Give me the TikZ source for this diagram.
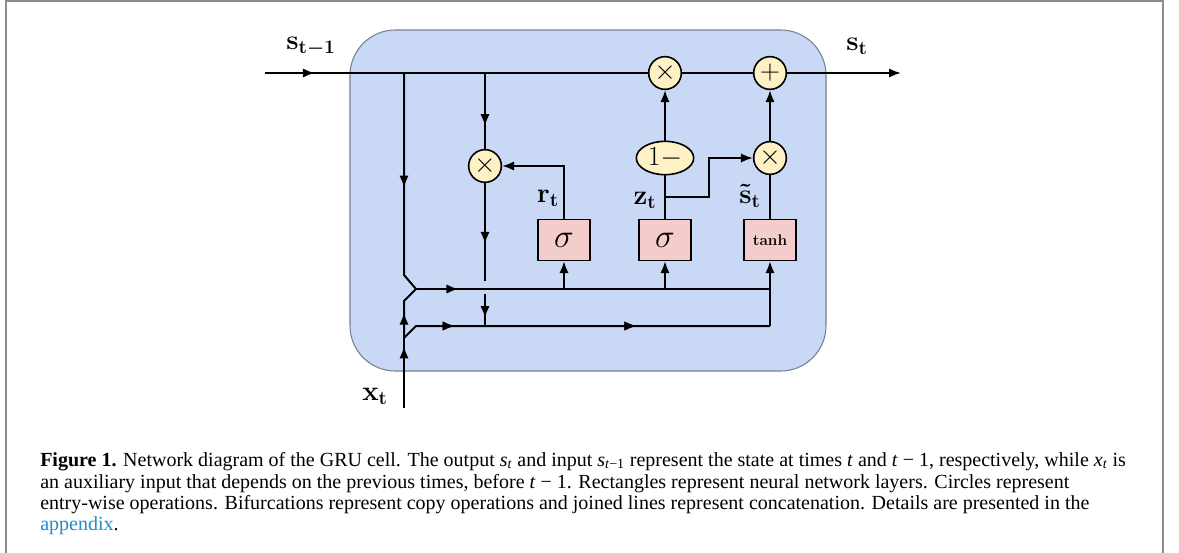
\documentclass[tikz,border=0pt]{standalone}
\usepackage{fontspec}
\usepackage{amsmath,amssymb}
\usepackage{xcolor}
\usepackage{tikz}
\usetikzlibrary{arrows.meta,decorations.markings,shapes.geometric}
\newfontfamily\capfont{Liberation Serif}

\definecolor{cellblue}{RGB}{201,217,245}
\definecolor{cellgray}{RGB}{118,128,145}
\definecolor{opyellow}{RGB}{253,241,197}
\definecolor{layerpink}{RGB}{244,204,204}
\definecolor{framegray}{RGB}{140,140,140}
\definecolor{linkblue}{RGB}{32,140,200}

\begin{document}
\begin{tikzpicture}[x=0.75pt,y=0.75pt,yscale=-1,xscale=1,
    wire/.style={line width=1.5pt,line join=miter},
    tip/.style={-{Latex[length=9pt,width=7pt]}},
    marr/.style={postaction={decorate},decoration={markings,mark=at position #1 with {\arrow{Latex[length=9pt,width=7pt]}}}},
    op/.style={circle,draw,line width=1.2pt,fill=opyellow,minimum size=24.5pt,inner sep=0pt,font=\fontsize{21}{21}\selectfont},
    layer/.style={rectangle,draw,line width=1.2pt,fill=layerpink,minimum width=39pt,minimum height=30.5pt,inner sep=0pt},
    lbl/.style={inner sep=0pt,font=\fontsize{21}{21}\selectfont\boldmath},
    capline/.style={anchor=base west,inner sep=0pt,font=\capfont\fontsize{15}{16}\selectfont}]

\useasboundingbox (0,0) rectangle (1179,553);

% page frame
\draw [framegray,line width=1.5pt] (6,553) -- (6,1) -- (1163,1) -- (1163,553);

% cell body
\draw [cellgray,fill=cellblue,line width=0.8pt,rounded corners=34pt] (350,30) rectangle (826,371);

% operations
\node [op] (mulr) at (485,166) {$\times$};
\node [op] (multop) at (665,73) {$\times$};
\node [op] (plus) at (770,73) {$+$};
\node [op] (mulh) at (770,158) {$\times$};
\node [ellipse,draw,line width=1.2pt,fill=opyellow,minimum width=43pt,minimum height=25pt,inner sep=0pt,font=\fontsize{20}{20}\selectfont] (onem) at (665,158) {$1-$};

% layers
\node [layer,font=\fontsize{26}{26}\selectfont] (sigr) at (564,240) {$\sigma$};
\node [layer,font=\fontsize{26}{26}\selectfont] (sigz) at (665,240) {$\sigma$};
\node [layer,font=\fontsize{11.5}{12}\selectfont\bfseries] (tanh) at (770,240) {tanh};

% labels
\node [lbl] (lst1) at (311,47) {$\mathbf{s}_{\mathbf{t}-\mathbf{1}}$};
\node [lbl] (lst) at (857,46) {$\mathbf{s}_{\mathbf{t}}$};
\node [lbl] (lrt) at (548,198) {$\mathbf{r}_{\mathbf{t}}$};
\node [lbl] (lzt) at (645,200) {$\mathbf{z}_{\mathbf{t}}$};
\node [lbl] (lsh) at (750,196) {$\tilde{\mathbf{s}}_{\mathbf{t}}$};
\node [lbl] (lxt) at (375,396) {$\mathbf{x}_{\mathbf{t}}$};

% points of the wiring
\coordinate (inS) at (265,73);
\coordinate (outS) at (901,73);
\coordinate (c1) at (404,73);
\coordinate (c2) at (485,73);
\coordinate (cpA) at (404,275);
\coordinate (cjoin1) at (416,289);
\coordinate (cpB) at (404,301);
\coordinate (xin) at (404,408);
\coordinate (xsplit) at (404,338);
\coordinate (cjoin2) at (416,326);
\coordinate (endU) at (770,289);
\coordinate (endL) at (770,326);
\coordinate (tapR) at (564,289);
\coordinate (tapZ) at (665,289);
\coordinate (gapA) at (485,281);
\coordinate (gapB) at (485,294);
\coordinate (bridge) at (485,326);
\coordinate (rturn) at (564,166);
\coordinate (zfork) at (665,197);
\coordinate (zbend1) at (709,197);
\coordinate (zbend2) at (709,158);

% state line
\draw [wire,marr=0.13] (inS) -- (multop);
\draw [wire] (multop) -- (plus);
\draw [wire,tip] (plus) -- (outS);

% copy of s_{t-1} and concatenation with x_t
\draw [wire,marr=0.52] (c1) -- (cpA) -- (cjoin1);
\draw [wire,marr=0.88] (xin) -- (xsplit);
\draw [wire,marr=0.47] (xsplit) -- (cpB) -- (cjoin1);
\draw [wire,marr=0.12] (cjoin1) -- (endU);
\draw [wire,marr=0.15,marr=0.64] (xsplit) -- (cjoin2) -- (endL);
\draw [wire,tip] (endL) -- (tanh);
\draw [wire,tip] (tapR) -- (sigr);
\draw [wire,tip] (tapZ) -- (sigz);

% reset gate
\draw [wire,marr=0.7] (c2) -- (mulr);
\draw [wire,marr=0.62] (mulr) -- (gapA);
\draw [wire,marr=0.75] (gapB) -- (bridge);
\draw [wire,tip] (sigr) -- (rturn) -- (mulr);

% update gate
\draw [wire] (sigz) -- (onem);
\draw [wire,tip] (onem) -- (multop);
\draw [wire,tip] (zfork) -- (zbend1) -- (zbend2) -- (mulh);
\draw [wire] (tanh) -- (mulh);
\draw [wire,tip] (mulh) -- (plus);

% caption
\node [capline] (cap1) at (40,466) {\textbf{Figure 1.} Network diagram of the GRU cell. The output \textit{s}\textsubscript{\textit{t}} and input \textit{s}\textsubscript{\textit{t}−1} represent the state at times \textit{t} and \textit{t} − 1, respectively, while \textit{x}\textsubscript{\textit{t}} is};
\node [capline] (cap2) at (40,488) {an auxiliary input that depends on the previous times, before \textit{t} − 1. Rectangles represent neural network layers. Circles represent};
\node [capline] (cap3) at (40,509) {entry-wise operations. Bifurcations represent copy operations and joined lines represent concatenation. Details are presented in the};
\node [capline] (cap4) at (40,530) {\textcolor{linkblue}{appendix}.};

\end{tikzpicture}
\end{document}
